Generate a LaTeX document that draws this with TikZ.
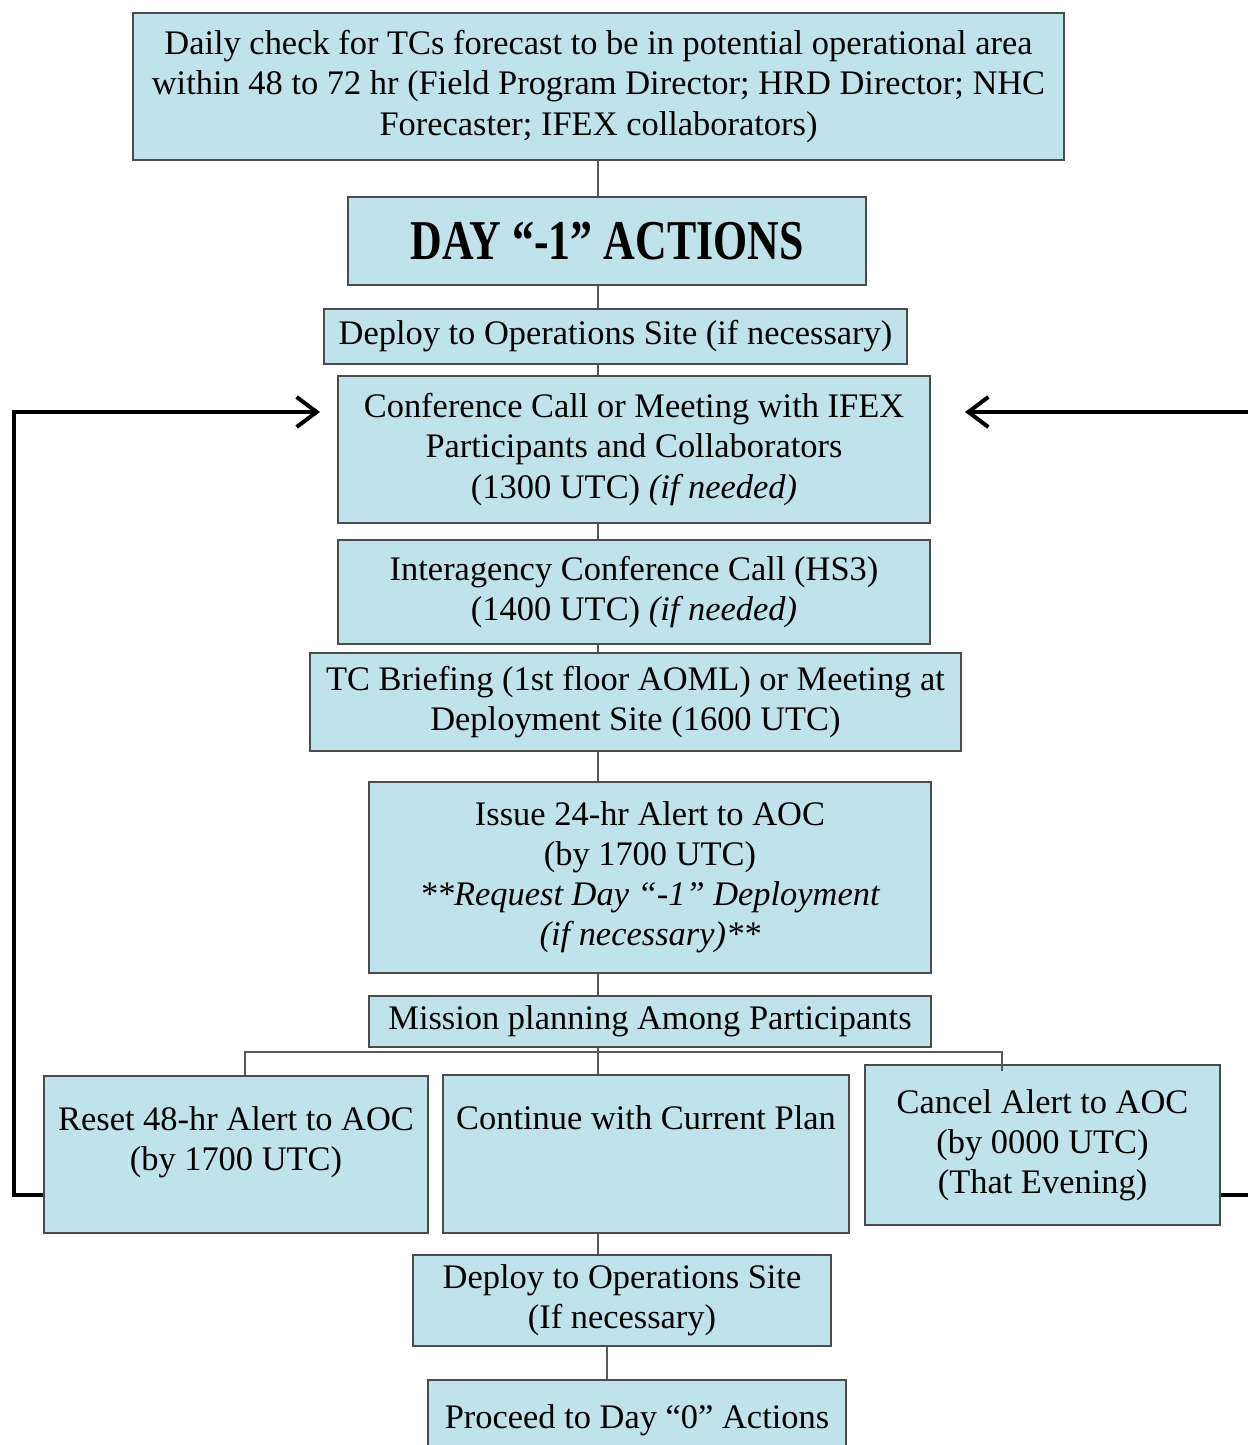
\documentclass[tikz,border=0pt]{standalone}
\usepackage{fontspec}
\setmainfont{Liberation Serif}
\newfontfamily\headfont{Liberation Serif}[FakeStretch=0.78]
\usetikzlibrary{arrows.meta}

\definecolor{boxblue}{RGB}{192,226,234}

\tikzset{
  boxtext/.style={align=center, font=\fontsize{19.6}{22.8}\selectfont},
  stepbox/.style={boxtext, draw=black!70, line width=0.05cm, fill=boxblue, inner sep=0pt},
  link/.style={draw=black!65, line width=0.03cm},
  loopback/.style={draw=black, line width=0.08cm, -{Straight Barb[length=0.4cm,width=0.6cm]}},
}

\begin{document}
\begin{tikzpicture}[x=0.02cm,y=-0.02cm]
\useasboundingbox (0,0) rectangle (1248,1445);
\clip (0,0) rectangle (1248,1445);

% main column
\node[stepbox, minimum width=18.62cm, minimum height=2.94cm] (check) at (598.5,86.5)
  {Daily check for TCs forecast to be in potential operational area\\
   within 48 to 72 hr (Field Program Director; HRD Director; NHC\\
   Forecaster; IFEX collaborators)};
\node[stepbox, minimum width=10.36cm, minimum height=1.76cm,
  font=\headfont\fontsize{32}{36}\selectfont\bfseries] (day) at (607,241) {DAY “-1” ACTIONS};
\node[stepbox, minimum width=11.66cm, minimum height=1.10cm] (deploy) at (615.5,336.5)
  {\raisebox{-3pt}{Deploy to Operations Site (if necessary)}};
\node[stepbox, minimum width=11.84cm, minimum height=2.94cm] (conf) at (634,449.5)
  {Conference Call or Meeting with IFEX\\ Participants and Collaborators\\
   (1300 UTC) \textit{(if needed)}};
\node[stepbox, minimum width=11.84cm, minimum height=2.08cm] (interag) at (634,592)
  {Interagency Conference Call (HS3)\\ (1400 UTC) \textit{(if needed)}};
\node[stepbox, minimum width=13.02cm, minimum height=1.96cm] (brief) at (635.5,702)
  {TC Briefing (1st floor AOML) or Meeting at\\ Deployment Site (1600 UTC)};
\node[stepbox, minimum width=11.24cm, minimum height=3.82cm] (alert) at (650,877.5)
  {Issue 24-hr Alert to AOC\\ (by 1700 UTC)\\
   \textit{**Request Day “-1” Deployment}\\ \textit{(if necessary)**}};
\node[stepbox, minimum width=11.24cm, minimum height=1.02cm] (plan) at (650,1021.5)
  {Mission planning Among Participants};

% three outcomes
\node[stepbox, minimum width=7.68cm, minimum height=3.14cm,
  label={[boxtext, anchor=north, yshift=-0.52cm]north:{Reset 48-hr Alert to AOC\\ (by 1700 UTC)}}]
  (reset) at (236,1154.5) {};
\node[stepbox, minimum width=8.12cm, minimum height=3.16cm,
  label={[boxtext, anchor=north, yshift=-0.52cm]north:{Continue with Current Plan}}]
  (cont) at (646,1154) {};
\node[stepbox, minimum width=7.10cm, minimum height=3.20cm] (cancel) at (1042.5,1145)
  {Cancel Alert to AOC\\ (by 0000 UTC)\\ (That Evening)};

\node[stepbox, minimum width=8.36cm, minimum height=1.82cm] (deployb) at (622,1300.5)
  {Deploy to Operations Site\\ (If necessary)};
\node[stepbox, minimum width=8.36cm, minimum height=1.60cm] (proceed) at (637,1420)
  {Proceed to Day “0” Actions};

% connectors
\coordinate (spine) at (598,0);
\coordinate (spineb) at (607,0);
\draw[link] (check.south -| spine) -- (day.north -| spine);
\draw[link] (day.south -| spine) -- (deploy.north -| spine);
\draw[link] (deploy.south -| spine) -- (conf.north -| spine);
\draw[link] (conf.south -| spine) -- (interag.north -| spine);
\draw[link] (interag.south -| spine) -- (brief.north -| spine);
\draw[link] (brief.south -| spine) -- (alert.north -| spine);
\draw[link] (alert.south -| spine) -- (plan.north -| spine);

\coordinate (busL) at (245,1052);
\coordinate (busR) at (1002,1052);
\draw[link] (plan.south -| spine) -- (spine |- busL) -- (cont.north -| spine);
\draw[link] (reset.north -| busL) -- (busL) -- (busR) -- ([yshift=-0.14cm]cancel.north -| busR);

\draw[link] (cont.south -| spine) -- (deployb.north -| spine);
\draw[link] (deployb.south -| spineb) -- (proceed.north -| spineb);

% loop back to the conference call
\coordinate (inL) at (320,412);
\coordinate (cornL) at (14,1195);
\draw[loopback] (reset.west |- cornL) -- (cornL) |- (inL);
\coordinate (inR) at (965,412);
\coordinate (cornR) at (1262,1195);
\draw[loopback] (cancel.east |- cornR) -- (cornR) |- (inR);

\end{tikzpicture}
\end{document}
